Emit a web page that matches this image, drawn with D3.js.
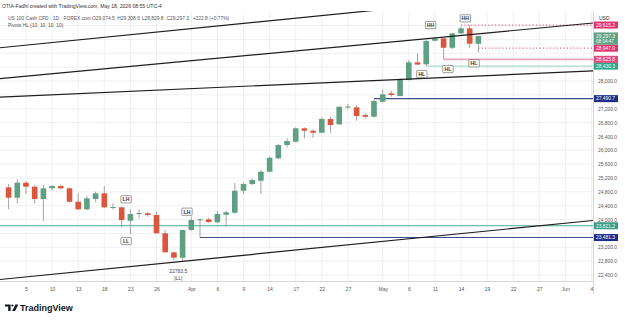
<!DOCTYPE html>
<html><head><meta charset="utf-8">
<script src="https://cdn.jsdelivr.net/npm/d3@7"></script>
<style>
body{margin:0;background:#fff;}
svg{display:block;font-family:"Liberation Sans",Arial,sans-serif;}
</style>
</head><body>
<svg id="c" width="625" height="320"></svg>
<script>
// ---------- DATA ----------
const dates = ["2026-03-03","2026-03-04","2026-03-05","2026-03-06","2026-03-09","2026-03-10","2026-03-11","2026-03-12","2026-03-13",
"2026-03-16","2026-03-17","2026-03-18","2026-03-19","2026-03-20","2026-03-23","2026-03-24","2026-03-25","2026-03-26","2026-03-27",
"2026-03-30","2026-03-31","2026-04-01","2026-04-02","2026-04-03","2026-04-06","2026-04-07","2026-04-08","2026-04-09","2026-04-10",
"2026-04-13","2026-04-14","2026-04-15","2026-04-16","2026-04-17","2026-04-20","2026-04-21","2026-04-22","2026-04-23","2026-04-24",
"2026-04-27","2026-04-28","2026-04-29","2026-04-30","2026-05-01","2026-05-04","2026-05-05","2026-05-06","2026-05-07","2026-05-08",
"2026-05-11","2026-05-12","2026-05-13","2026-05-14","2026-05-15","2026-05-18"];
const opens = [24931,24631,25064,24948,24593,24902,24969,24902,24515,24296,24593,24758,24345,24354,23967,24172,24181,24132,23603,23055,
22899,23699,23979,24007,23921,24140,24198,24833,25026,25121,25381,25768,26152,26247,26634,26564,26507,26902,26749,27251,
27240,27018,26968,27401,27644,27566,28028,28539,28481,29162,29231,28960,29375,29520,29074.5];
const highs = [25026,25162,25113,24997,24997,24997,24997,24925,24767,24680,24804,24969,24469,24377,24296,24296,24227,24227,23699,23064,
23719,24082,24036,24054,24256,24256,25064,25064,25191,25430,25814,26181,26345,26663,26663,26605,26951,26968,27265,27335,
27306,27067,27450,27759,27719,28077,28605,28798,29182,29254,29240,29384,29566,29615.2,29308.6];
const lows = [24296,24469,24738,24469,23967,24833,24873,24492,24276,24276,24498,24334,24296,23777,23575,24036,24082,23598,23049,22833,
22783.5,23679,23481.3,23909,23909,23794,24160,24738,24997,24738,25364,25748,26085,26230,26345,26362,26490,26507,26735,27182,
26853,26922,26950,27390,27546,27550,28020,28461,28430.3,29140,28625.8,28922,29355,28947,28829.8];
const closes = [24631,25064,24948,24593,24902,24969,24902,24515,24296,24614,24758,24354,24362,23987,24160,24189,24132,23603,23055,22899,
23699,23987,24007,23930,24160,24210,24833,25026,25142,25381,25785,26152,26267,26634,26564,26507,26902,26729,27257,27263,
26989,26968,27422,27615,27595,28048,28539,28475,29153,29231,28960,29375,29520,29074.5,29297.3];

const tickDates = ["2026-03-05","2026-03-10","2026-03-13","2026-03-18","2026-03-23","2026-03-26","2026-04-01","2026-04-06","2026-04-09",
"2026-04-14","2026-04-17","2026-04-22","2026-04-27","2026-05-01","2026-05-06","2026-05-11","2026-05-14","2026-05-19","2026-05-22",
"2026-05-27","2026-06-01","2026-06-04"];
const tickLabels = ["5","10","13","18","23","26","Apr","6","9","14","17","22","27","May","6","11","14","19","22","27","Jun","4"];
const priceTicks = [22400,22800,23200,23600,24000,24400,24800,25200,25600,26000,26400,26800,27200,27600,28000,28400,28800,29200,29600];

// horizontal levels
const levelPrices = [23821.2, 23481.3, 27490.7, 28430.3, 28625.8, 28947.0, 29615.2];
const levelStarts = ["2026-03-03","2026-04-02","2026-04-30","2026-05-08","2026-05-12","2026-05-18","2026-05-14"];
const levelKinds  = ["teal","navy","navy","lightteal","pinkSolid","pinkDot","pinkDot"];

// trend lines (two anchors each: date, price)
const trendLines = [
  [["2026-03-03",28985],["2026-04-28",29989]],
  [["2026-03-03",28089],["2026-05-26",29505]],
  [["2026-03-03",27548],["2026-05-26",28211]],
  [["2026-03-03",22295],["2026-05-26",23794]]
];

// pivot labels: date, price (label position), text, boxed?
const pivotDates  = ["2026-03-23","2026-03-23","2026-04-01","2026-03-31","2026-03-31","2026-05-08","2026-05-11","2026-05-13","2026-05-15","2026-05-18"];
const pivotPrices = [24585,23381,24227,22515,22305,28201,29615,28345,29808,28510];
const pivotTexts  = ["LH","LL","LH","22783.5","|LL|","HL","HH","HL","HH","HL"];
const pivotBoxed  = [true,true,true,false,false,true,true,true,true,true];

const lastClose = 29297.3;
const countdown = "08:04:47";
const legendTitle = "US 100 Cash CFD · 1D · FOREX.com";
const legendValues = ["O29,074.5","H29,308.6","L28,829.8","C29,297.3","+222.8 (+0.77%)"];

// ---------- CHART ----------
const svg = d3.select("#c");
const P = {l:0, r:593, t:11, b:281};
const fmtDay = d3.utcFormat("%Y-%m-%d");
const days = d3.utcDay.range(new Date(Date.UTC(2026,2,3)), new Date(Date.UTC(2026,5,6)))
  .filter(d => d.getUTCDay() !== 0 && d.getUTCDay() !== 6).map(fmtDay);
const x = d3.scalePoint().domain(days).range([8.6, 600.2]);
const step = x.step();
const y = d3.scaleLinear().domain([22400, 28000]).range([275, 81]);
const fmtP = d3.format(",.1f");

svg.append("rect").attr("width",625).attr("height",320).attr("fill","#fff");

const defs = svg.append("defs");
defs.append("clipPath").attr("id","plot").append("rect")
  .attr("x",P.l).attr("y",P.t).attr("width",P.r-P.l).attr("height",P.b-P.t);

// grid
const grid = svg.append("g").attr("clip-path","url(#plot)");
grid.selectAll("line.v").data(tickDates).join("line")
  .attr("x1",d=>x(d)).attr("x2",d=>x(d)).attr("y1",P.t).attr("y2",P.b)
  .attr("stroke","#eff0f2").attr("stroke-width",1);
grid.selectAll("line.h").data(priceTicks).join("line")
  .attr("x1",P.l).attr("x2",P.r).attr("y1",d=>y(d)).attr("y2",d=>y(d))
  .attr("stroke","#eff0f2").attr("stroke-width",1);

const plot = svg.append("g").attr("clip-path","url(#plot)");

// level lines
const levelStyle = {
  teal:{c:"#4fa894",w:1.1,dash:null},
  navy:{c:"#3b4d8c",w:1.1,dash:null},
  lightteal:{c:"#93d3c4",w:1,dash:null},
  pinkSolid:{c:"#eba3be",w:1.8,dash:null},
  pinkDot:{c:"#e3668f",w:1.2,dash:"1.2,2.2"}
};
levelPrices.forEach((p,i)=>{
  const s = levelStyle[levelKinds[i]];
  const x0 = levelStarts[i] === days[0] ? P.l : x(levelStarts[i]);
  plot.append("line").attr("x1",x0).attr("x2",P.r).attr("y1",y(p)).attr("y2",y(p))
    .attr("stroke",s.c).attr("stroke-width",s.w).attr("stroke-dasharray",s.dash);
});

// candles
const up = "#5f9f82", down = "#dc563e";
const cg = plot.append("g");
dates.forEach((d,i)=>{
  const o=opens[i], c=closes[i], h=highs[i], l=lows[i];
  const col = c >= o ? up : down;
  const cx = x(d);
  cg.append("line").attr("x1",cx).attr("x2",cx).attr("y1",y(h)).attr("y2",y(l))
    .attr("stroke","#9a9a9a").attr("stroke-width",0.9);
  const yt = y(Math.max(o,c)), yb = y(Math.min(o,c));
  cg.append("rect").attr("x",cx-2.8).attr("width",5.6)
    .attr("y",yt).attr("height",Math.max(1,yb-yt)).attr("fill",col);
});

// trend lines, extended across plot
const tg = svg.append("g").attr("clip-path","url(#plot)");
trendLines.forEach(tl=>{
  const x1=x(tl[0][0]), y1=y(tl[0][1]), x2=x(tl[1][0]), y2=y(tl[1][1]);
  const m=(y2-y1)/(x2-x1);
  tg.append("line").attr("x1",P.l).attr("y1",y1+m*(P.l-x1))
    .attr("x2",P.r).attr("y2",y1+m*(P.r-x1))
    .attr("stroke","#1e1e1e").attr("stroke-width",1.2);
});

// pivot labels
pivotTexts.forEach((t,i)=>{
  const cx = x(pivotDates[i]) - step/2, cy = y(pivotPrices[i]);
  const g = svg.append("g");
  if (pivotBoxed[i]) {
    g.append("rect").attr("x",cx-5.2).attr("y",cy-3.6).attr("width",10.4).attr("height",7.2)
      .attr("fill","#fff").attr("stroke","#5a5a5a").attr("stroke-width",0.6).attr("rx",0.6);
    g.append("text").attr("x",cx).attr("y",cy+1.9).attr("text-anchor","middle")
      .attr("font-size",5.2).attr("font-weight","bold").attr("fill","#333").text(t);
  } else {
    g.append("text").attr("x",cx).attr("y",cy+1.8).attr("text-anchor","middle")
      .attr("font-size",5).attr("fill","#444").text(t);
  }
});

// axes frame
svg.append("line").attr("x1",P.r+0.5).attr("x2",P.r+0.5).attr("y1",P.t).attr("y2",294).attr("stroke","#d6d6d6");
svg.append("line").attr("x1",P.l).attr("x2",P.r).attr("y1",P.b+0.5).attr("y2",P.b+0.5).attr("stroke","#d6d6d6");

// bottom axis
const xa = svg.append("g").attr("transform",`translate(0,${P.b})`)
  .call(d3.axisBottom(x).tickValues(tickDates).tickFormat((d,i)=>tickLabels[i]).tickSize(0).tickPadding(6));
xa.select(".domain").remove();
xa.selectAll("text").attr("font-size",5).attr("fill","#555").attr("font-family","Liberation Sans, Arial, sans-serif");

// right axis: hide tick labels hidden behind the price labels
const labelYs = levelPrices.map(p=>y(p)).concat([y(lastClose), y(lastClose)+5.6]);
const visibleTicks = priceTicks.filter(t => labelYs.every(ly => Math.abs(y(t)-ly) >= 5.5));
const ya = svg.append("g").attr("transform",`translate(${P.r},0)`)
  .call(d3.axisRight(y).tickValues(visibleTicks).tickFormat(fmtP).tickSize(0).tickPadding(5));
ya.select(".domain").remove();
ya.selectAll("text").attr("font-size",4.9).attr("fill","#555").attr("font-family","Liberation Sans, Arial, sans-serif");

svg.append("text").attr("x",599).attr("y",20).attr("font-size",5).attr("fill","#333").text("USD");

// price labels on axis
const labelFill = {teal:"#3a9d84",navy:"#1d2d87",lightteal:"#2ba68c",pinkSolid:"#e6467c",pinkDot:"#e2326b"};
levelPrices.forEach((p,i)=>{
  const cy = y(p);
  svg.append("rect").attr("x",P.r+1).attr("y",cy-3.5).attr("width",24).attr("height",7)
    .attr("fill",labelFill[levelKinds[i]]);
  svg.append("text").attr("x",P.r+3).attr("y",cy+1.8).attr("font-size",4.9).attr("fill","#fff").text(fmtP(p));
});
// last price label
{
  const cy = y(lastClose);
  svg.append("rect").attr("x",P.r+1).attr("y",cy-3.6).attr("width",24).attr("height",12.2).attr("fill","#5f9f82");
  svg.append("text").attr("x",P.r+3).attr("y",cy+1.8).attr("font-size",4.9).attr("fill","#fff").text(fmtP(lastClose));
  svg.append("text").attr("x",P.r+3).attr("y",cy+7.4).attr("font-size",4.6).attr("fill","#fff").text(countdown);
}

// header + legend
svg.append("text").attr("x",2).attr("y",8).attr("font-size",5.1).attr("fill","#333")
  .text("OTIA-Fadhl created with TradingView.com, May 18, 2026 08:55 UTC-4");
const lg = svg.append("text").attr("y",19.6).attr("font-size",4.9).attr("fill","#555");
lg.append("tspan").attr("x",8).text(legendTitle);
const legendX = [92, 117.3, 141.7, 166.5, 192.7];
legendValues.forEach((v,i)=> lg.append("tspan").attr("x",legendX[i]).text(v));
svg.append("text").attr("x",8).attr("y",27.2).attr("font-size",4.9).attr("fill","#555").text("Pivots HL (10, 10, 10, 10)");

// TradingView logo
const logo = svg.append("g").attr("fill","#131722");
logo.append("path").attr("d","M5,304.4 H10.6 V311 H8.2 V306.6 H5 Z");
logo.append("circle").attr("cx",12.4).attr("cy",305.5).attr("r",1.1);
logo.append("path").attr("d","M15.4,304.4 H18.3 L15.1,311 H12.2 Z");
svg.append("text").attr("x",20).attr("y",311).attr("font-size",9).attr("font-weight","bold")
  .attr("fill","#131722").text("TradingView");
</script>
</body></html>
